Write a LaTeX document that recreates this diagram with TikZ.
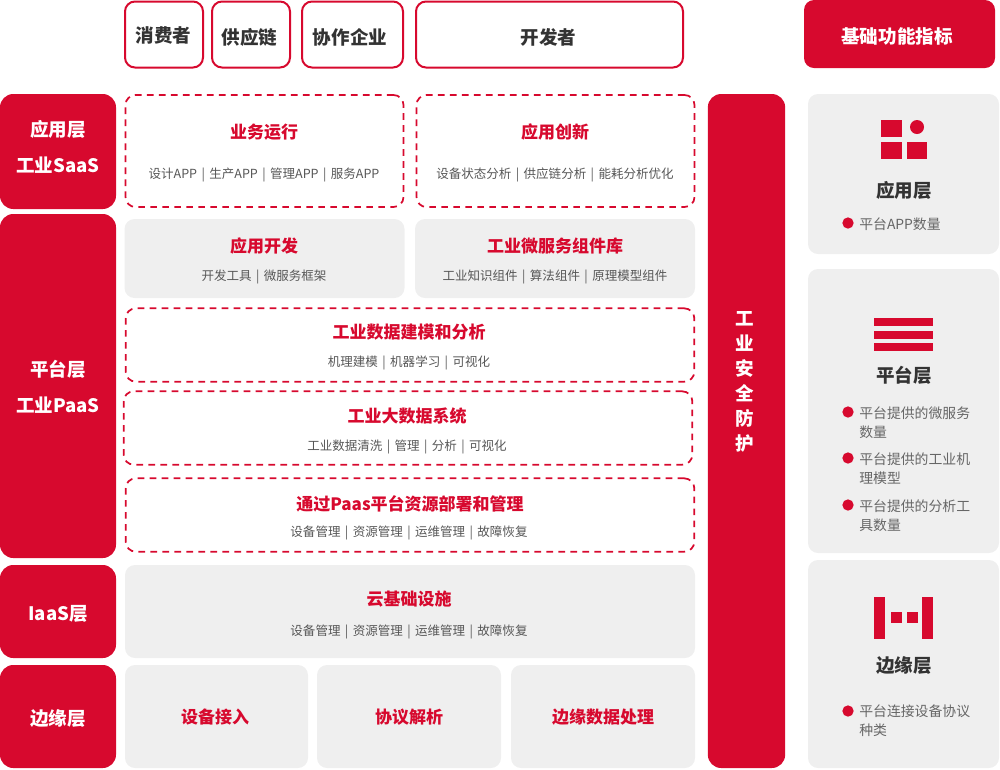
\documentclass[tikz,border=0pt]{standalone}
\usepackage{fontspec}
\setmainfont{Noto Sans CJK SC}
\usetikzlibrary{positioning}
\definecolor{brandred}{HTML}{D7092E}
\definecolor{panelgray}{HTML}{EFEFEF}
\definecolor{darktext}{HTML}{333333}
\definecolor{softtext}{HTML}{666666}
\newcommand{\sepbar}{\hspace{3.3pt}|\hspace{3.3pt}}
\tikzset{
    box/.style={rectangle, rounded corners=7.5pt, inner sep=0pt, minimum width=#1},
    topbox/.style={box=#1, draw=brandred, line width=1.5pt, minimum height=49.5pt},
    dashbox/.style={box=#1, draw=brandred, line width=1.3pt, dash pattern=on 5pt off 4pt},
    graybox/.style={box=#1, fill=panelgray},
    redbox/.style={box=#1, fill=brandred, rounded corners=10pt},
    tag/.style={text=white, inner sep=0pt, align=center, font=\fontsize{13.9}{27}\selectfont\bfseries},
    title/.style={text=brandred, inner sep=0pt, font=\fontsize{12.75}{15}\selectfont\bfseries},
    sub/.style={text=softtext!85!black, inner sep=0pt, font=\fontsize{9.4}{12}\selectfont},
    head/.style={text=darktext, inner sep=0pt, font=\fontsize{13.9}{16}\selectfont\bfseries},
    dot/.style={circle, fill=brandred, inner sep=0pt, minimum size=8.5pt},
    note/.style={text=softtext, inner sep=0pt, anchor=north west, align=left, text width=87pt, font=\fontsize{10.4}{14}\selectfont},
    icon/.style={fill=brandred}
}

\begin{document}
\begin{tikzpicture}[x=0.75pt, y=-0.75pt]
    \useasboundingbox (0,0) rectangle (1000,769);

    % top row
    \node[topbox=58.5pt] (consumer) at (164,34.5) {};
    \node[head] (consumerT) at (163.5,35) {消费者};
    \node[topbox=58.5pt] (supply) at (251,34.5) {};
    \node[head] (supplyT) at (249.5,37) {供应链};
    \node[topbox=75.75pt] (partner) at (352.5,34.5) {};
    \node[head] (partnerT) at (350,37) {协作企业};
    \node[topbox=200.25pt] (developer) at (549.5,34.5) {};
    \node[head] (developerT) at (548.5,37) {开发者};
    \node[redbox=143.25pt, minimum height=51pt, rounded corners=7.5pt] (metrics) at (899.5,34) {};
    \node[tag] (metricsT) at (897,36.5) {基础功能指标};

    % layers on the left
    \node[redbox=87pt, minimum height=86.25pt] (saas) at (58,151.5) {};
    \node[tag] (saasT) at (58,147) {应用层\\工业SaaS};
    \node[redbox=87pt, minimum height=258pt] (paas) at (58,386) {};
    \node[tag] (paasT) at (58,386.5) {平台层\\工业PaaS};
    \node[redbox=87pt, minimum height=69.75pt] (iaas) at (58,611.5) {};
    \node[tag] (iaasT) at (58,613.5) {IaaS层};
    \node[redbox=87pt, minimum height=77.25pt] (edge) at (58,716.5) {};
    \node[tag] (edgeT) at (58,718.5) {边缘层};

    % application layer
    \node[dashbox=208.5pt, minimum height=84pt] (run) at (264.5,151) {};
    \node[title] (runT) at (264,132) {业务运行};
    \node[sub] (runS) at (264,175) {设计APP\sepbar 生产APP\sepbar 管理APP\sepbar 服务APP};
    \node[dashbox=208.5pt, minimum height=84pt] (innov) at (555.5,151) {};
    \node[title] (innovT) at (555,132) {应用创新};
    \node[sub] (innovS) at (555,175) {设备状态分析\sepbar 供应链分析\sepbar 能耗分析优化};

    % platform layer
    \node[graybox=210pt, minimum height=59.25pt] (appdev) at (264.5,258.5) {};
    \node[title] (appdevT) at (264,246) {应用开发};
    \node[sub] (appdevS) at (264,277) {开发工具\sepbar 微服务框架};
    \node[graybox=210pt, minimum height=59.25pt] (micro) at (555,258.5) {};
    \node[title] (microT) at (555,246) {工业微服务组件库};
    \node[sub] (microS) at (555,277) {工业知识组件\sepbar 算法组件\sepbar 原理模型组件};
    \node[dashbox=426.5pt, minimum height=55pt] (model) at (410,345) {};
    \node[title] (modelT) at (409,332) {工业数据建模和分析};
    \node[sub] (modelS) at (409,363) {机理建模\sepbar 机器学习\sepbar 可视化};
    \node[dashbox=426.5pt, minimum height=55pt] (bigdata) at (408,428) {};
    \node[title] (bigdataT) at (407,416) {工业大数据系统};
    \node[sub] (bigdataS) at (407,447) {工业数据清洗\sepbar 管理\sepbar 分析\sepbar 可视化};
    \node[dashbox=426.5pt, minimum height=55pt] (deploy) at (410,515) {};
    \node[title] (deployT) at (410,504) {通过Paas平台资源部署和管理};
    \node[sub] (deployS) at (409,532.5) {设备管理\sepbar 资源管理\sepbar 运维管理\sepbar 故障恢复};

    % iaas layer
    \node[graybox=427.5pt, minimum height=69.75pt] (cloud) at (410,611.5) {};
    \node[title] (cloudT) at (409,599) {云基础设施};
    \node[sub] (cloudS) at (409,631.5) {设备管理\sepbar 资源管理\sepbar 运维管理\sepbar 故障恢复};

    % edge layer
    \node[graybox=137.25pt, minimum height=77.25pt] (access) at (216.5,716.5) {};
    \node[title] (accessT) at (215,717) {设备接入};
    \node[graybox=138pt, minimum height=77.25pt] (parse) at (409,716.5) {};
    \node[title] (parseT) at (409,717) {协议解析};
    \node[graybox=138pt, minimum height=77.25pt] (process) at (603,716.5) {};
    \node[title] (processT) at (603,717) {边缘数据处理};

    % security column
    \node[redbox=58pt, minimum height=505.5pt] (safety) at (746.5,431) {};
    \node[text=white, inner sep=0pt, align=center, font=\fontsize{13.9}{18.75}\selectfont\bfseries] (safetyT) at (745,382) {工\\业\\安\\全\\防\\护};

    % panels on the right
    \node[graybox=143.25pt, minimum height=120pt] (panelA) at (903.5,174) {};
    \node[graybox=143.25pt, minimum height=213pt] (panelB) at (903.5,411) {};
    \node[graybox=143.25pt, minimum height=156pt] (panelC) at (903.5,664) {};

    % icons
    \fill[icon] (881,120) rectangle (902,137);
    \fill[icon] (881,142) rectangle (902,159);
    \fill[icon] (907,142) rectangle (927,159);
    \fill[icon] (917,127) circle (5.25pt);
    \fill[icon] (874,317.5) rectangle (933,326);
    \fill[icon] (874,330.5) rectangle (933,339);
    \fill[icon] (874,343) rectangle (933,351);
    \fill[icon] (874,597) rectangle (885,639);
    \fill[icon] (922,597) rectangle (933,639);
    \fill[icon] (891,612) rectangle (902,623);
    \fill[icon] (907,612) rectangle (918,623);

    % panel texts
    \node[head] (headA) at (904,190) {应用层};
    \node[dot] (dotA) at (848,223) {};
    \node[note] (noteA) at (859,218) {平台APP数量};
    \node[head] (headB) at (904,375) {平台层};
    \node[dot] (dotB1) at (848,412) {};
    \node[note] (noteB1) at (859,407) {平台提供的微服务\\数量};
    \node[dot] (dotB2) at (848,458) {};
    \node[note] (noteB2) at (859,453) {平台提供的工业机\\理模型};
    \node[dot] (dotB3) at (848,505) {};
    \node[note] (noteB3) at (859,500) {平台提供的分析工\\具数量};
    \node[head] (headC) at (904,666) {边缘层};
    \node[dot] (dotC) at (848,711) {};
    \node[note] (noteC) at (859,705) {平台连接设备协议\\种类};
\end{tikzpicture}
\end{document}
